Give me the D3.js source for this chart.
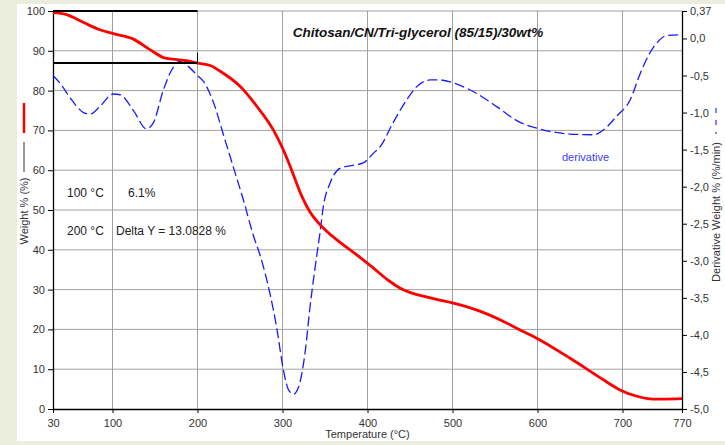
<!DOCTYPE html>
<html>
<head>
<meta charset="utf-8">
<script src="https://cdn.jsdelivr.net/npm/d3@7"></script>
<style>
  body { margin: 0; background: #ebeedd; }
  svg { display: block; font-family: "Liberation Sans", Arial, sans-serif; }
</style>
</head>
<body>
<svg id="chart" width="725" height="445"></svg>
<script>
// Weight % curve (temperature °C, weight %)
const weightTemp = [30, 46, 66, 85, 101, 124, 144, 160, 171, 187, 200, 215, 230, 250, 270, 289, 301, 309, 321, 332, 348, 364, 387, 407, 426, 438, 474, 501, 528, 560, 579, 599, 638, 677, 697, 717, 736, 750, 770];
const weightVal = [99.6, 99.1, 97.1, 95.3, 94.3, 93.0, 90.3, 88.3, 87.9, 87.5, 86.9, 86.3, 84.4, 81.1, 76.0, 70.2, 65.1, 61.0, 54.3, 49.6, 45.5, 42.5, 38.8, 35.4, 32.1, 30.4, 27.9, 26.6, 24.9, 22.0, 19.9, 17.8, 12.8, 7.4, 4.8, 3.2, 2.5, 2.5, 2.6];

// Derivative weight curve (temperature °C, %/min)
const derivTemp = [30, 38, 52, 66, 74, 85, 101, 109, 125, 140, 148, 160, 172, 179, 187, 200, 207, 219, 230, 242, 254, 266, 274, 285, 293, 301, 307, 313, 319, 327, 332, 338, 344, 348, 356, 368, 379, 395, 407, 415, 430, 446, 458, 474, 485, 501, 528, 552, 579, 599, 638, 666, 677, 693, 709, 721, 732, 742, 752, 770];
const derivVal = [-0.50, -0.60, -0.83, -1.00, -1.02, -0.92, -0.75, -0.76, -0.98, -1.22, -1.14, -0.69, -0.38, -0.31, -0.36, -0.50, -0.58, -0.87, -1.28, -1.73, -2.18, -2.67, -2.94, -3.43, -3.89, -4.47, -4.74, -4.80, -4.70, -4.20, -3.66, -3.12, -2.63, -2.27, -1.95, -1.75, -1.72, -1.68, -1.55, -1.46, -1.14, -0.83, -0.65, -0.56, -0.56, -0.60, -0.74, -0.92, -1.13, -1.21, -1.29, -1.30, -1.24, -1.05, -0.83, -0.47, -0.20, -0.04, 0.04, 0.05];

// Marker lines: 100 °C / 200 °C readings
const markerLevels = [100, 86.92];
const markerRange = [30, 200];

// Axis ticks
const xTicks = [30, 100, 200, 300, 400, 500, 600, 700, 770];
const yLeftTicks = [0, 10, 20, 30, 40, 50, 60, 70, 80, 90, 100];
const yRightTicks = [0.37, 0, -0.5, -1, -1.5, -2, -2.5, -3, -3.5, -4, -4.5, -5];

const title = "Chitosan/CN/Tri-glycerol (85/15)/30wt%";
const notes = [
  { label: "100 °C", value: "6.1%" },
  { label: "200 °C", value: "Delta Y = 13.0828 %" }
];

const svg = d3.select("#chart");
const margin = { left: 53, right: 43, top: 11, bottom: 36 };
const W = 725, H = 445;
const plotW = W - margin.left - margin.right;
const plotH = H - margin.top - margin.bottom;

// White panel
svg.append("rect")
  .attr("x", 17).attr("y", 4)
  .attr("width", W - 17).attr("height", 437)
  .attr("fill", "#ffffff");

const g = svg.append("g").attr("transform", `translate(${margin.left},${margin.top})`);

const x = d3.scaleLinear().domain([30, 770]).range([0, plotW]);
const yL = d3.scaleLinear().domain([0, 100]).range([plotH, 0]);
const yR = d3.scaleLinear().domain([-5, 0.37]).range([plotH, 0]);

// Grid
g.append("g").selectAll("line")
  .data(xTicks.slice(1, -1))
  .join("line")
  .attr("x1", d => x(d)).attr("x2", d => x(d))
  .attr("y1", 0).attr("y2", plotH)
  .attr("stroke", "#a0a0a0").attr("stroke-width", 1);

g.append("g").selectAll("line")
  .data(yLeftTicks.slice(1))
  .join("line")
  .attr("x1", 0).attr("x2", plotW)
  .attr("y1", d => yL(d)).attr("y2", d => yL(d))
  .attr("stroke", "#a0a0a0").attr("stroke-width", 1);

// Axes
const tickStyle = sel => {
  sel.select(".domain").attr("stroke", "#000").attr("stroke-width", 1.3);
  sel.selectAll(".tick line").attr("stroke", "#000");
  sel.selectAll(".tick text").attr("fill", "#333").style("font-size", "11px");
};

g.append("g")
  .attr("transform", `translate(0,${plotH})`)
  .call(d3.axisBottom(x).tickValues(xTicks).tickSize(4).tickSizeOuter(0).tickFormat(d3.format("d")))
  .call(tickStyle)
  .call(s => s.selectAll(".tick text").attr("dy", "1.0em"));

g.append("g")
  .call(d3.axisLeft(yL).tickValues(yLeftTicks).tickSize(5).tickSizeOuter(0))
  .call(tickStyle);

const commaFmt = d => d === 0.37 ? "0,37" : d3.format(".1f")(d).replace(".", ",").replace("−", "-");
g.append("g")
  .attr("transform", `translate(${plotW},0)`)
  .call(d3.axisRight(yR).tickValues(yRightTicks).tickSize(5).tickSizeOuter(0).tickFormat(commaFmt))
  .call(tickStyle);

// Derivative curve (dashed blue)
const derivLine = d3.line()
  .x((d, i) => x(derivTemp[i]))
  .y(d => yR(d))
  .curve(d3.curveMonotoneX);

g.append("path")
  .datum(derivVal)
  .attr("d", derivLine)
  .attr("fill", "none")
  .attr("stroke", "#1a1aff")
  .attr("stroke-width", 1.3)
  .attr("stroke-dasharray", "10,4");

// Weight curve (red)
const weightLine = d3.line()
  .x((d, i) => x(weightTemp[i]))
  .y(d => yL(d))
  .curve(d3.curveMonotoneX);

g.append("path")
  .datum(weightVal)
  .attr("d", weightLine)
  .attr("fill", "none")
  .attr("stroke", "#ff0000")
  .attr("stroke-width", 2.8);

// Marker lines
g.append("g").selectAll("line")
  .data(markerLevels)
  .join("line")
  .attr("x1", x(markerRange[0])).attr("x2", x(markerRange[1]))
  .attr("y1", d => yL(d)).attr("y2", d => yL(d))
  .attr("stroke", "#000").attr("stroke-width", 2);

g.append("line")
  .attr("x1", x(markerRange[1])).attr("x2", x(markerRange[1]))
  .attr("y1", yL(89.5)).attr("y2", yL(markerLevels[1]))
  .attr("stroke", "#000").attr("stroke-width", 1);

// Title
svg.append("text")
  .attr("x", 418).attr("y", 37)
  .attr("text-anchor", "middle")
  .style("font-size", "13.5px")
  .style("font-weight", "bold")
  .style("font-style", "italic")
  .attr("fill", "#111")
  .text(title);

// Annotations
notes.forEach((n, i) => {
  const ty = 197 + i * 37.5;
  svg.append("text").attr("x", 67).attr("y", ty)
    .style("font-size", "12px").attr("fill", "#222").text(n.label);
  svg.append("text").attr("x", i === 0 ? 128 : 116).attr("y", ty)
    .style("font-size", "12px").attr("fill", "#222").text(n.value);
});

svg.append("text")
  .attr("x", 562).attr("y", 161)
  .style("font-size", "11px")
  .attr("fill", "#3a3aff")
  .text("derivative");

// Axis titles
svg.append("text")
  .attr("x", margin.left + plotW / 2).attr("y", 438)
  .attr("text-anchor", "middle")
  .style("font-size", "11px").attr("fill", "#333")
  .text("Temperature (°C)");

// Left legend marks + label
svg.append("line").attr("x1", 24).attr("x2", 24).attr("y1", 103).attr("y2", 133)
  .attr("stroke", "#ff0000").attr("stroke-width", 2.5);
svg.append("line").attr("x1", 24).attr("x2", 24).attr("y1", 142).attr("y2", 172)
  .attr("stroke", "#333").attr("stroke-width", 1);
svg.append("text")
  .attr("transform", "translate(28,211) rotate(-90)")
  .attr("text-anchor", "middle")
  .style("font-size", "11px").attr("fill", "#333")
  .text("Weight % (%)");

// Right legend mark + label
svg.append("line").attr("x1", 716).attr("x2", 716).attr("y1", 108).attr("y2", 134)
  .attr("stroke", "#8080ff").attr("stroke-width", 2)
  .attr("stroke-dasharray", "5,7");
svg.append("text")
  .attr("transform", "translate(720,212) rotate(-90)")
  .attr("text-anchor", "middle")
  .style("font-size", "11px").attr("fill", "#333")
  .text("Derivative Weight % (%/min)");
</script>
</body>
</html>
